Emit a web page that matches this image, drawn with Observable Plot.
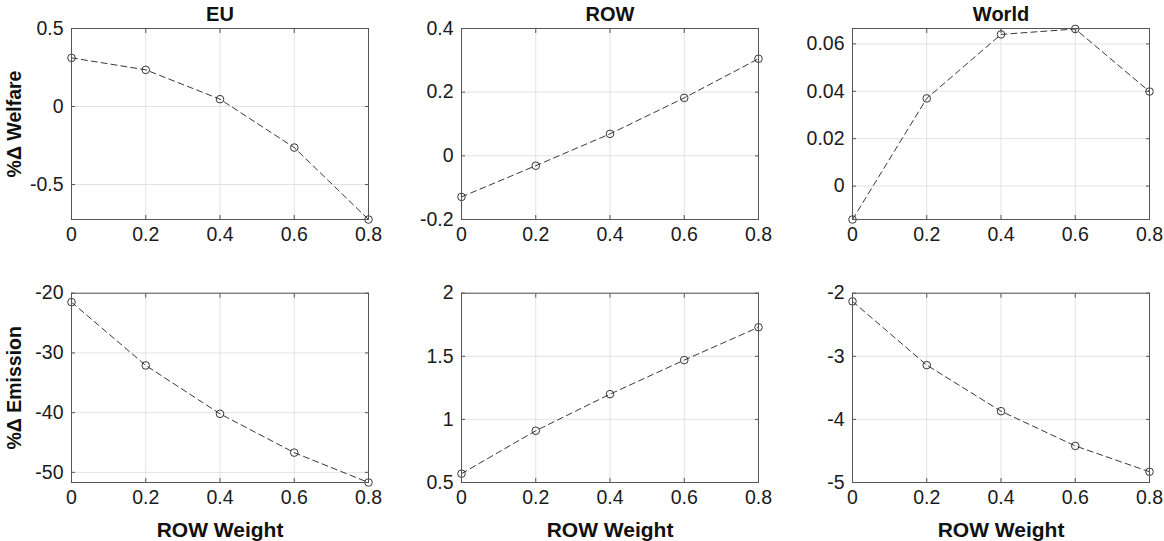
<!DOCTYPE html>
<html>
<head>
<meta charset="utf-8">
<script src="https://cdn.jsdelivr.net/npm/d3@7"></script>
<script src="https://cdn.jsdelivr.net/npm/@observablehq/plot@0.6"></script>
<style>
  html, body { margin: 0; padding: 0; background: #fff; }
  #wrap { position: relative; width: 1164px; height: 541px; overflow: hidden; }
  g[aria-label="x-axis label"] text { font-weight: bold; font-size: 21px; fill: #111; }
  g[aria-label="y-axis label"] text { font-weight: bold; font-size: 19.5px; fill: #111; }
  g[aria-label="x-axis tick label"] text, g[aria-label="y-axis tick label"] text { font-size: 19.5px; }
</style>
</head>
<body>
<div id="wrap"></div>
<script>
// ---- data ----
const rowWeight = [0, 0.2, 0.4, 0.6, 0.8];
const xTicks = [0, 0.2, 0.4, 0.6, 0.8];

const regions = ["EU", "ROW", "World"];
const rowLabels = ["%Δ Welfare", "%Δ Emission"];

const welfareEU = [0.312, 0.235, 0.047, -0.263, -0.724];
const welfareROW = [-0.129, -0.031, 0.069, 0.182, 0.305];
const welfareWorld = [-0.0141, 0.037, 0.064, 0.0663, 0.0399];

const emissionEU = [-21.5, -32.1, -40.2, -46.7, -51.7];
const emissionROW = [0.57, 0.91, 1.2, 1.47, 1.73];
const emissionWorld = [-2.13, -3.14, -3.87, -4.42, -4.83];

const yDomains = [
  [[-0.724, 0.5], [-0.2, 0.4], [-0.0141, 0.0665]],
  [[-51.7, -20], [0.5, 2], [-5, -2]]
];
const yTicks = [
  [[-0.5, 0, 0.5], [-0.2, 0, 0.2, 0.4], [0, 0.02, 0.04, 0.06]],
  [[-50, -40, -30, -20], [0.5, 1, 1.5, 2], [-5, -4, -3, -2]]
];
const series = [
  [welfareEU, welfareROW, welfareWorld],
  [emissionEU, emissionROW, emissionWorld]
];

// ---- layout ----
const wrap = document.getElementById("wrap");
const colLeft = [0, 390, 781];
const frameW = 297;
const mL = 71, mR = 16;
const rowsGeom = [
  {top: 0, mT: 28, h: 191, mB: 30},
  {top: 260, mT: 32.7, h: 189.3, mB: 59}
];
const fmt = d => String(d);

for (let r = 0; r < 2; r++) {
  for (let c = 0; c < 3; c++) {
    const g = rowsGeom[r];
    const ys = series[r][c];
    const data = rowWeight.map((x, i) => ({x, y: ys[i]}));
    const marks = [
      Plot.gridX(xTicks, {stroke: "#e2e2e2", strokeOpacity: 1}),
      Plot.gridY(yTicks[r][c], {stroke: "#e2e2e2", strokeOpacity: 1}),
      Plot.axisY(yTicks[r][c], {anchor: "left", tickSize: 0, tickPadding: 8, tickFormat: fmt, fill: "#1a1a1a", fontSize: 19.5,
        label: c === 0 ? rowLabels[r] : null, labelAnchor: "center", labelArrow: "none", labelOffset: 64}),
      Plot.axisY(yTicks[r][c], {anchor: "left", tickSize: -4, tickFormat: () => "", label: null, stroke: "#555"}),
      Plot.axisY(yTicks[r][c], {anchor: "right", tickSize: -4, tickFormat: () => "", label: null, stroke: "#555"}),
      Plot.axisX(xTicks, {anchor: "bottom", tickSize: 0, tickPadding: 8, tickFormat: fmt, fill: "#1a1a1a", fontSize: 19.5,
        label: r === 1 ? "ROW Weight" : null, labelAnchor: "center", labelArrow: "none", labelOffset: 54}),
      Plot.axisX(xTicks, {anchor: "bottom", tickSize: -4, tickFormat: () => "", label: null, stroke: "#555"}),
      Plot.axisX(xTicks, {anchor: "top", tickSize: -4, tickFormat: () => "", label: null, stroke: "#555"}),
      Plot.line(data, {x: "x", y: "y", stroke: "#383838", strokeWidth: 1, strokeDasharray: "6,4"}),
      Plot.dot(data, {x: "x", y: "y", r: 3.8, stroke: "#222", strokeWidth: 0.9, fill: "none"}),
      Plot.frame({stroke: "#555", strokeWidth: 1})
    ];
    if (r === 0) {
      marks.push(Plot.text([regions[c]], {text: d => d, frameAnchor: "top", dy: -14, lineAnchor: "middle",
        fontWeight: "bold", fontSize: 20, fill: "#111"}));
    }
    const chart = Plot.plot({
      width: mL + frameW + mR,
      height: g.mT + g.h + g.mB,
      marginLeft: mL, marginRight: mR, marginTop: g.mT, marginBottom: g.mB,
      style: {fontSize: "19.5px", fontFamily: "'Liberation Sans', Arial, Helvetica, sans-serif", background: "transparent", overflow: "visible"},
      x: {domain: [0, 0.8]},
      y: {domain: yDomains[r][c]},
      marks
    });
    chart.style.position = "absolute";
    chart.style.left = colLeft[c] + "px";
    chart.style.top = g.top + "px";
    wrap.appendChild(chart);
  }
}
</script>
</body>
</html>
